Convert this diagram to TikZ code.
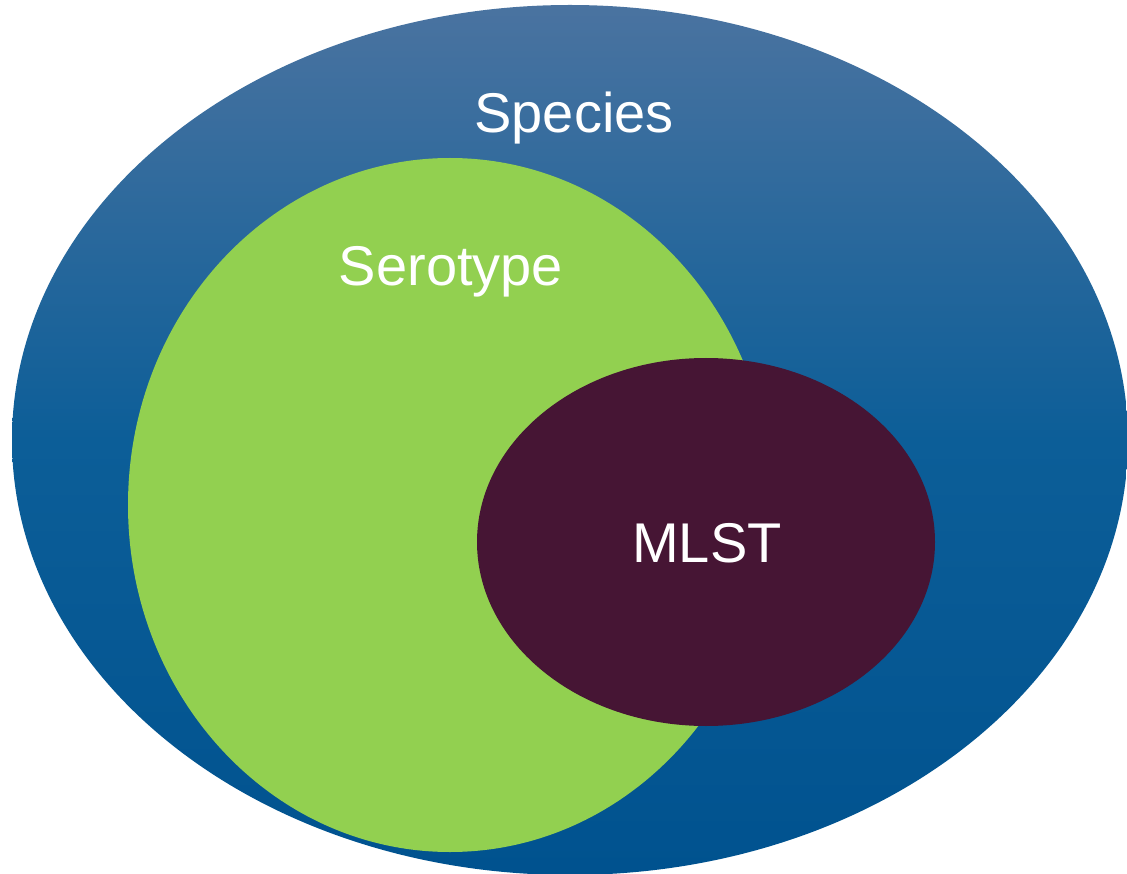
\documentclass[tikz,border=0pt]{standalone}
\usepackage{fontspec}
\setmainfont{Liberation Sans}
\usetikzlibrary{shapes.geometric}
\definecolor{topblue}{RGB}{74,115,160}
\definecolor{midblue}{RGB}{12,94,152}
\definecolor{botblue}{RGB}{0,82,143}
\definecolor{sgreen}{RGB}{146,208,80}
\definecolor{mpurple}{RGB}{70,21,52}
\tikzset{
  blob/.style={ellipse, draw=none, inner sep=0pt, outer sep=0pt},
  lbl/.style={text=white, font=\fontsize{56}{60}\selectfont, anchor=base, inner sep=0pt}
}
\begin{document}
\begin{tikzpicture}[x=1pt,y=-1pt]
\useasboundingbox (0,0) rectangle (1127,874);
\node[blob, minimum width=1116pt, minimum height=870pt, top color=topblue, bottom color=botblue, middle color=midblue] (species) at (570,440) {};
\node[blob, minimum width=644pt, minimum height=694pt, fill=sgreen] (serotype) at (450,505) {};
\node[blob, minimum width=458pt, minimum height=368pt, fill=mpurple] (mlst) at (706,542) {};
\node[lbl] (tspecies) at (574,133) {Species};
\node[lbl] (tserotype) at (451,286) {Serotype};
\node[lbl] (tmlst) at (707,562) {MLST};
\end{tikzpicture}
\end{document}
